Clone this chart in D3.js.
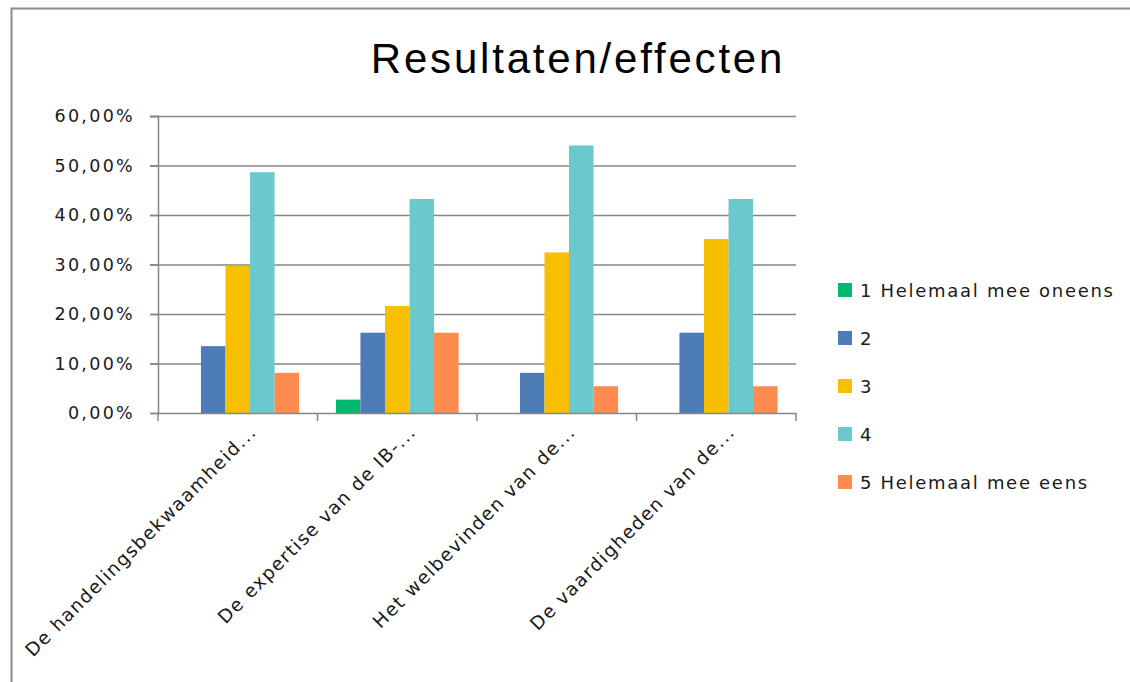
<!DOCTYPE html>
<html>
<head>
<meta charset="utf-8">
<script src="https://cdn.jsdelivr.net/npm/d3@7"></script>
<style>
  body { margin: 0; background: #fff; }
  text { font-family: "DejaVu Sans", sans-serif; fill: #1a1a1a; }
</style>
</head>
<body>
<div class="canvas"></div>
<script>
// data (percentages)
const categories = ['De handelingsbekwaamheid...', 'De expertise van de IB-...', 'Het welbevinden van de...', 'De vaardigheden van de...'];
const seriesNames = ['1 Helemaal mee oneens', '2', '3', '4', '5 Helemaal mee eens'];
const s1 = [0, 2.70, 0, 0];
const s2 = [13.51, 16.22, 8.11, 16.22];
const s3 = [29.73, 21.62, 32.43, 35.14];
const s4 = [48.65, 43.24, 54.05, 43.24];
const s5 = [8.11, 16.22, 5.41, 5.41];
const yTicks = [0, 10, 20, 30, 40, 50, 60];
const colors = ['#00b96d', '#4e7cb6', '#f8be00', '#6bc8cc', '#ff8b4f'];

const series = [s1, s2, s3, s4, s5];

const svg = d3.select('.canvas').append('svg')
	.attr('width', 1130)
	.attr('height', 682);

// outer frame (left and top edges only show)
svg.append('path')
	.attr('d', 'M11.5,682 V8.5 H1130')
	.attr('fill', 'none')
	.attr('stroke', '#8c8c8c')
	.attr('stroke-width', 2);

const margins = {top: 116, left: 158};
const graphWidth = 796 - 158;
const graphHeight = 413 - 116;

const graph = svg.append('g')
	.attr('transform', `translate(${margins.left}, ${margins.top})`);

const y = d3.scaleLinear()
	.domain([0, 60])
	.range([graphHeight, 0]);

const x = d3.scaleBand()
	.domain(categories)
	.range([0, graphWidth]);

// excel gap width 150% -> bar = band / 6.5
const barW = x.bandwidth() / 6.5;
const x1 = d3.scaleBand()
	.domain(d3.range(seriesNames.length))
	.range([barW * 0.75, x.bandwidth() - barW * 0.75]);

// gridlines
graph.append('g')
	.selectAll('line')
	.data(yTicks.slice(1))
	.enter()
	.append('line')
	.attr('x1', -8)
	.attr('x2', graphWidth)
	.attr('y1', d => y(d) + 0.5)
	.attr('y2', d => y(d) + 0.5)
	.attr('stroke', '#868686')
	.attr('stroke-width', 1.5);

// bars
categories.forEach((c, ci) => {
	graph.append('g')
		.attr('transform', `translate(${x(c)}, 0)`)
		.selectAll('rect')
		.data(series.map((s, si) => ({si, v: s[ci]})))
		.enter()
		.append('rect')
		.attr('x', d => x1(d.si))
		.attr('width', x1.bandwidth())
		.attr('y', d => y(d.v))
		.attr('height', d => graphHeight - y(d.v))
		.attr('fill', d => colors[d.si]);
});

// axes
const yAxis = d3.axisLeft(y)
	.tickValues(yTicks)
	.tickSize(8)
	.tickPadding(15)
	.tickFormat(d => d3.format('.2f')(d).replace('.', ',') + '%');

const yAxisGroup = graph.append('g').call(yAxis);
yAxisGroup.select('.domain').attr('stroke', '#868686').attr('stroke-width', 1.5);
yAxisGroup.selectAll('line').attr('stroke', '#868686').attr('stroke-width', 1.5);
yAxisGroup.selectAll('text')
	.attr('font-size', 17.5)
	.attr('letter-spacing', 2.3)
	.attr('font-family', 'DejaVu Sans')
	.attr('fill', '#1a1a1a');

const xAxisGroup = graph.append('g')
	.attr('transform', `translate(0, ${graphHeight})`);
xAxisGroup.append('line')
	.attr('x1', 0).attr('x2', graphWidth)
	.attr('y1', 0.5).attr('y2', 0.5)
	.attr('stroke', '#868686').attr('stroke-width', 1.5);
xAxisGroup.selectAll('.tick')
	.data(d3.range(categories.length + 1))
	.enter()
	.append('line')
	.attr('x1', d => d * x.bandwidth())
	.attr('x2', d => d * x.bandwidth())
	.attr('y1', 0).attr('y2', 8)
	.attr('stroke', '#868686').attr('stroke-width', 1.5);

xAxisGroup.selectAll('text')
	.data(categories)
	.enter()
	.append('text')
	.attr('transform', d => `translate(${x(d) + x.bandwidth() / 2 + 20}, 20) rotate(-45)`)
	.attr('text-anchor', 'end')
	.attr('font-size', 18.5)
	.attr('letter-spacing', 1.4)
	.text(d => d);

// title
svg.append('text')
	.attr('x', 578)
	.attr('y', 73)
	.attr('text-anchor', 'middle')
	.attr('font-size', 42)
	.attr('letter-spacing', 2.8)
	.style('font-family', 'Liberation Sans, Arial, sans-serif')
	.style('fill', '#000')
	.text('Resultaten/effecten');

// legend
const legend = svg.append('g')
	.attr('transform', 'translate(838, 290)');
const item = legend.selectAll('g')
	.data(seriesNames)
	.enter()
	.append('g')
	.attr('transform', (d, i) => `translate(0, ${i * 48})`);
item.append('rect')
	.attr('x', 0).attr('y', -7)
	.attr('width', 14).attr('height', 14)
	.attr('fill', (d, i) => colors[i]);
item.append('text')
	.attr('x', 22)
	.attr('y', 7)
	.attr('font-size', 18)
	.attr('letter-spacing', 1.7)
	.text(d => d);
</script>
</body>
</html>
